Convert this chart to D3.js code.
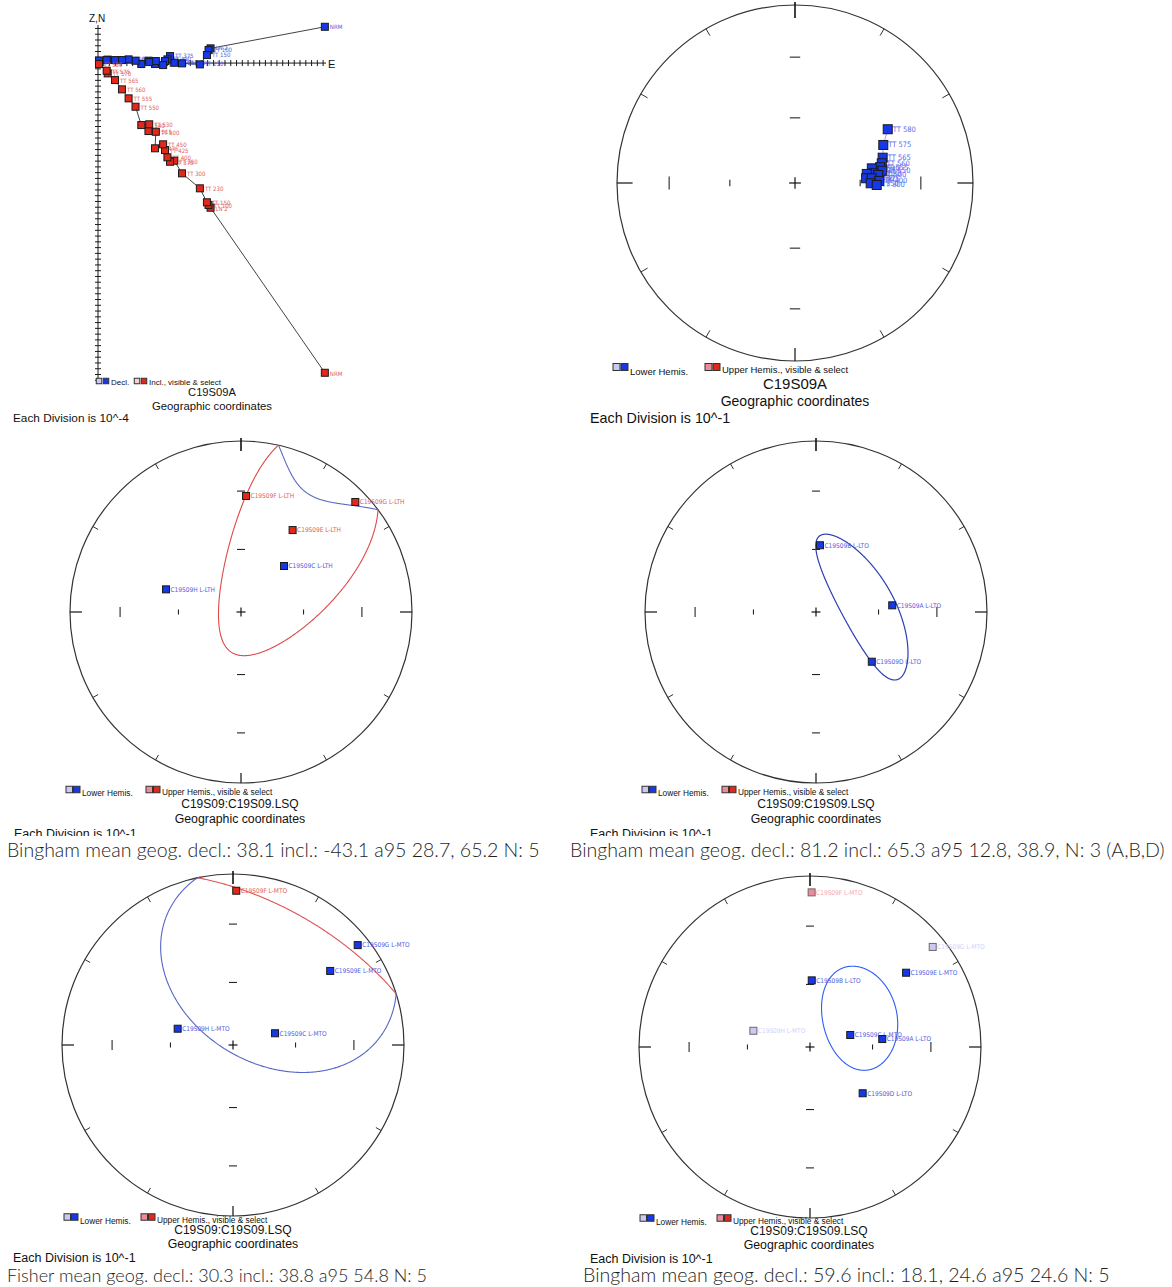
<!DOCTYPE html>
<html><head><meta charset="utf-8">
<script src="https://cdn.jsdelivr.net/npm/d3@7"></script>
<style>
body{margin:0;background:#fff;}
svg{display:block;}
</style></head><body>
<svg id="fig" width="1172" height="1287"></svg>
<script>
// ---------- Zijderveld components of C19S09A (units: divisions of 10^-4) ----------
const zijSteps = ["NRM","LN 2","TT 100","TT 150","TT 230","TT 300","TT 350","TT 375","TT 400","TT 425","TT 450","TT 475","TT 500","TT 515","TT 530","TT 540","TT 550","TT 555","TT 560","TT 565","TT 570","TT 575","TT 580"];
const zijEast  = [39.3, 19.5, 19.15, 18.87, 17.65, 14.55, 13.22, 12.48, 12.03, 11.61, 11.28, 9.88, 10.02, 8.74, 8.87, 7.5, 6.5, 5.3, 4.15, 2.95, 1.68, 1.5, 0.17];
const zijNorth = [6.29, 2.55, 2.25, 1.39, -0.23, -0.05, 0.05, 1.21, 0.64, 0.35, -0.35, -0.17, 0.35, 0.4, 0.17, -0.17, 0.4, 0.64, 0.52, 0.52, 0.6, 0.52, 0.45];
const zijDown  = [53.7, 25.08, 24.6, 24.14, 21.72, 19.12, 16.93, 17.11, 16.34, 15.08, 14.09, 14.78, 11.91, 11.79, 10.62, 10.75, 7.57, 6.12, 4.56, 2.95, 1.79, 1.33, 0.17];

// ---------- step directions of C19S09A on the equal-area net ----------
const netSteps = ["TT 580","TT 575","TT 565","TT 560","TT 555","TT 550","TT 540","TT 530","TT 515","TT 500","TT 450","TT 425","TT 400","TT 350","TT 300"];
const netDec = [59.9, 66.7, 73.9, 77.2, 79.5, 82.0, 79.2, 82.9, 82.8, 84.5, 86.2, 86.5, 88.6, 90.2, 91.4];
const netInc = [39.6, 45.1, 47.5, 48.6, 49.8, 49.0, 53.8, 53.5, 56.6, 51.2, 57.1, 54.5, 50.9, 55.0, 52.1];

// ---------- line-fit directions per specimen ----------
const lthNames = ["C19S09F L-LTH","C19S09G L-LTH","C19S09E L-LTH","C19S09C L-LTH","C19S09H L-LTH"];
const lthDec = [2.5, 46.1, 32.2, 43.1, 286.8];
const lthInc = [-32.6, -8.0, -42.8, 59.8, 52.2];

const ltoNames = ["C19S09B L-LTO","C19S09A L-LTO","C19S09D L-LTO"];
const ltoDec = [3.4, 85.0, 131.7];
const ltoInc = [57.9, 53.1, 54.0];

const mtoNames = ["C19S09F L-MTO","C19S09G L-MTO","C19S09E L-MTO","C19S09H L-MTO","C19S09C L-MTO"];
const mtoDec = [1.2, 51.3, 52.7, 286.4, 74.4];
const mtoInc = [-10.7, 7.3, 29.3, 62.4, 69.2];

const allNames = ["C19S09F L-MTO","C19S09G L-MTO","C19S09E L-MTO","C19S09B L-LTO","C19S09H L-MTO","C19S09C L-MTO","C19S09A L-LTO","C19S09D L-LTO"];
const allDec = [0.6, 50.8, 52.3, 1.5, 286.0, 73.4, 83.7, 131.3];
const allInc = [-10.5, 8.2, 29.7, 58.0, 61.8, 70.0, 55.0, 56.3];
const allHidden = [true, true, false, false, true, false, false, false];

// ---------- mean directions and confidence regions (LTH, LTO, MTO, all) ----------
const meanDec = [38.1, 81.2, 30.3, 59.6];
const meanInc = [-43.1, 65.3, 38.8, 62.0];
const meanSemiMajor = [65.2, 38.9, 54.8, 24.6];
const meanSemiMinor = [28.7, 12.8, 54.8, 18.1];
const meanAxisAngle = [99, -21, 0, 21];
const captions = [
  "Bingham mean geog. decl.: 38.1 incl.: -43.1 a95 28.7, 65.2 N: 5",
  "Bingham mean geog. decl.: 81.2 incl.: 65.3 a95 12.8, 38.9, N: 3 (A,B,D)",
  "Fisher mean geog. decl.: 30.3 incl.: 38.8 a95 54.8 N: 5",
  "Bingham mean geog. decl.: 59.6 incl.: 18.1, 24.6 a95 24.6 N: 5"
];

// ---------- drawing ----------
const DEG = Math.PI / 180;
const svg = d3.select("#fig");
const defs = svg.append("defs");
const SANS = "'Liberation Sans', Arial, sans-serif";
const TINY = "'DejaVu Sans Condensed', 'DejaVu Sans', sans-serif";
const CAPTION = "Lato, 'Open Sans', sans-serif";

const COL = {
  red: "#e2281b", blue: "#1638e6", edge: "#1a1a1a",
  redLabel: "#e0605a", blueLabel: "#5060e0",
  pink: "#f08a9a", lav: "#c9c9f2", fadedEdge: "#6a6a6a",
  pinkLabel: "#f6a6ae", lavLabel: "#d2d2f6"
};

function panel(id, x, y, w, h) {
  defs.append("clipPath").attr("id", id).append("rect")
    .attr("x", x).attr("y", y).attr("width", w).attr("height", h);
  return svg.append("g").attr("clip-path", `url(#${id})`);
}
function seg(g, x1, y1, x2, y2, col, w) {
  g.append("line").attr("x1", x1).attr("y1", y1).attr("x2", x2).attr("y2", y2)
    .attr("stroke", col || "#1a1a1a").attr("stroke-width", w || 1);
}
function square(g, x, y, s, fill, stroke) {
  g.append("rect").attr("x", x - s / 2).attr("y", y - s / 2).attr("width", s).attr("height", s)
    .attr("fill", fill).attr("stroke", stroke).attr("stroke-width", 1);
}
function text(g, x, y, str, size, opts) {
  opts = opts || {};
  return g.append("text").attr("x", x).attr("y", y).text(str)
    .attr("font-family", opts.family || SANS).attr("font-size", size)
    .attr("fill", opts.fill || "#111").attr("text-anchor", opts.anchor || "start")
    .attr("font-weight", opts.weight || "normal");
}
// caption line sized so that it runs across the given width
function caption(x, y, str, width) {
  const t = text(svg, x, y, str, 18, { family: CAPTION, fill: "#1e1e1e", weight: 300 });
  const len = t.node().getComputedTextLength();
  if (len > 0) t.attr("font-size", 18 * width / len);
}
function legend(g, x, y, size, box, gap) {
  square(g, x + box / 2, y, box, COL.lav, "#333");
  square(g, x + box * 1.5 + 1, y, box, COL.blue, "#333");
  text(g, x + box * 2 + 3, y + size * 0.8, "Lower Hemis.", size);
  const x2 = x + gap;
  square(g, x2 + box / 2, y, box, COL.pink, "#333");
  square(g, x2 + box * 1.5 + 1, y, box, COL.red, "#333");
  text(g, x2 + box * 2 + 3, y + size * 0.68, "Upper Hemis., visible & select", size);
}

// ---------- panel 1: Zijderveld diagram ----------
(function () {
  const g = panel("p1", 0, 0, 350, 425);
  const zx = d3.scaleLinear().domain([0, 39.5]).range([98, 326]);
  const zy = d3.scaleLinear().domain([6.6, -55.3]).range([25, 382]);
  seg(g, zx(0), zy(0), zx(39.5), zy(0));
  seg(g, zx(0), zy(6.6), zx(0), zy(-55.3));
  d3.range(1, 40).forEach(i => seg(g, zx(i), zy(0) - 3, zx(i), zy(0) + 3));
  d3.range(-55, 7).filter(j => j !== 0).forEach(j => seg(g, zx(0) - 3, zy(j), zx(0) + 3, zy(j)));
  text(g, 89, 22, "Z,N", 10);
  text(g, 328, 68, "E", 11);

  const idx = d3.range(zijSteps.length);
  const hLine = d3.line().x(i => zx(zijEast[i])).y(i => zy(zijNorth[i]));
  const vLine = d3.line().x(i => zx(zijEast[i])).y(i => zy(-zijDown[i]));
  g.append("path").attr("d", hLine(idx)).attr("fill", "none").attr("stroke", "#444").attr("stroke-width", 1);
  g.append("path").attr("d", vLine(idx)).attr("fill", "none").attr("stroke", "#444").attr("stroke-width", 1);

  idx.forEach(i => text(g, zx(zijEast[i]) + 5, zy(zijNorth[i]) + 2, zijSteps[i], 6, { family: TINY, fill: COL.blueLabel }));
  idx.forEach(i => square(g, zx(zijEast[i]), zy(zijNorth[i]), 7, COL.blue, COL.edge));
  idx.forEach(i => text(g, zx(zijEast[i]) + 5, zy(-zijDown[i]) + 3, zijSteps[i], 6, { family: TINY, fill: COL.redLabel }));
  idx.forEach(i => square(g, zx(zijEast[i]), zy(-zijDown[i]), 7, COL.red, COL.edge));

  // legend and titles
  square(g, 99, 381, 5.5, COL.lav, "#333");
  square(g, 106, 381, 5.5, COL.blue, "#333");
  text(g, 111, 384.5, "Decl.", 8);
  square(g, 137, 381, 5.5, "#f4d2d8", "#333");
  square(g, 144, 381, 5.5, COL.red, "#333");
  text(g, 149, 384.5, "Incl., visible & select", 8);
  text(g, 212, 396, "C19S09A", 11.2, { anchor: "middle" });
  text(g, 212, 410, "Geographic coordinates", 11.3, { anchor: "middle" });
  text(g, 13, 422, "Each Division is 10^-4", 11.8);
})();

// ---------- equal-area net ----------
function drawNet(g, cx, cy, R, k) {
  const rad = d3.scaleSqrt().domain([0, 1]).range([0, R]);
  const proj = (dec, inc) => {
    const r = rad(1 - Math.sin(Math.abs(inc) * DEG));
    return [cx + r * Math.sin(dec * DEG), cy - r * Math.cos(dec * DEG)];
  };
  g.append("circle").attr("cx", cx).attr("cy", cy).attr("r", R)
    .attr("fill", "none").attr("stroke", "#333").attr("stroke-width", 1.2);
  d3.range(30, 360, 30).filter(a => a % 90).forEach(a => {
    const s = Math.sin(a * DEG), c = Math.cos(a * DEG);
    seg(g, cx + R * s, cy - R * c, cx + (R - 6 * k) * s, cy - (R - 6 * k) * c, "#333");
  });
  seg(g, cx, cy - R - 3, cx, cy - R + 10 * k, "#111", 1.6);
  seg(g, cx, cy + R, cx, cy + R - 10 * k, "#111", 1.2);
  seg(g, cx + R, cy, cx + R - 12 * k, cy, "#111", 1.2);
  seg(g, cx - R, cy, cx - R + 12 * k, cy, "#111", 1.2);
  [30, 60].forEach(inc => {
    const r = rad(1 - Math.sin(inc * DEG));
    const hl = inc === 30 ? 5 * k : 2.5 * k;
    [-1, 1].forEach(sg => {
      seg(g, cx + sg * r, cy - hl, cx + sg * r, cy + hl, "#111", 1);
      seg(g, cx - 4 * k, cy + sg * r, cx + 4 * k, cy + sg * r, "#111", 1);
    });
  });
  seg(g, cx - 4.5 * k, cy, cx + 4.5 * k, cy, "#111", 1.2);
  seg(g, cx, cy - 4.5 * k, cx, cy + 4.5 * k, "#111", 1.2);
  return proj;
}

// confidence cone around a mean, split into upper / lower hemisphere pieces
function vec(dec, inc) {
  const D = dec * DEG, I = inc * DEG;
  return [Math.cos(I) * Math.cos(D), Math.cos(I) * Math.sin(D), Math.sin(I)];
}
function dir(v) {
  const n = Math.hypot(v[0], v[1], v[2]);
  return [Math.atan2(v[1], v[0]) / DEG, Math.asin(Math.max(-1, Math.min(1, v[2] / n))) / DEG];
}
function coneSegments(i) {
  const D = meanDec[i] * DEG, I = meanInc[i] * DEG, p = meanAxisAngle[i] * DEG;
  const m = vec(meanDec[i], meanInc[i]);
  const e1 = [-Math.sin(D), Math.cos(D), 0];
  const e2 = [-Math.sin(I) * Math.cos(D), -Math.sin(I) * Math.sin(D), Math.cos(I)];
  const u = e1.map((a, j) => a * Math.cos(p) + e2[j] * Math.sin(p));
  const w = e1.map((a, j) => -a * Math.sin(p) + e2[j] * Math.cos(p));
  const pts = d3.range(0, 360.5, 0.5).map(t => {
    const x = meanSemiMajor[i] * Math.cos(t * DEG), y = meanSemiMinor[i] * Math.sin(t * DEG);
    const rho = Math.hypot(x, y) * DEG, psi = Math.atan2(y, x);
    return m.map((a, j) => a * Math.cos(rho) + Math.sin(rho) * (Math.cos(psi) * u[j] + Math.sin(psi) * w[j]));
  });
  const segs = [];
  let cur = { upper: pts[0][2] < 0, pts: [pts[0]] };
  for (let k = 1; k < pts.length; k++) {
    const a = pts[k - 1], b = pts[k];
    if ((b[2] < 0) === cur.upper) { cur.pts.push(b); continue; }
    const f = a[2] / (a[2] - b[2]);
    const c = a.map((q, j) => q + f * (b[j] - q)); c[2] = 0;
    cur.pts.push(c); segs.push(cur);
    cur = { upper: b[2] < 0, pts: [c, b] };
  }
  segs.push(cur);
  return segs;
}
function drawCone(g, proj, i, upperCol, lowerCol, width) {
  const line = d3.line().x(v => proj(...dir(v))[0]).y(v => proj(...dir(v))[1]);
  coneSegments(i).forEach(s => {
    g.append("path").attr("d", line(s.pts)).attr("fill", "none")
      .attr("stroke", s.upper ? upperCol : lowerCol).attr("stroke-width", width);
  });
}
function drawDirs(g, proj, names, decs, incs, hidden, size, fontSize) {
  names.forEach((n, i) => {
    const [x, y] = proj(decs[i], incs[i]);
    const faded = hidden && hidden[i];
    const up = incs[i] < 0;
    const lab = faded ? (up ? COL.pinkLabel : COL.lavLabel) : (up ? COL.redLabel : COL.blueLabel);
    text(g, x + size / 2 + 1, y + fontSize * 0.35, n, fontSize, { family: TINY, fill: lab });
  });
  names.forEach((n, i) => {
    const [x, y] = proj(decs[i], incs[i]);
    const faded = hidden && hidden[i];
    const up = incs[i] < 0;
    const fill = faded ? (up ? COL.pink : COL.lav) : (up ? COL.red : COL.blue);
    square(g, x, y, size, fill, faded ? COL.fadedEdge : COL.edge);
  });
}
// legend, title, coordinate system and scale note under a net
function netFooter(g, cx, lx, ly, title, tSize, tY, gSize, gY, eSize, ex, eY, legSize, box, gap) {
  legend(g, lx, ly, legSize, box, gap);
  text(g, cx, tY, title, tSize, { anchor: "middle" });
  text(g, cx, gY, "Geographic coordinates", gSize, { anchor: "middle" });
  text(g, ex, eY, "Each Division is 10^-1", eSize);
}

// ---------- panel 2: step directions ----------
(function () {
  const g = panel("p2", 580, 0, 420, 425);
  const proj = drawNet(g, 795, 183, 178, 1.3);
  const line = d3.line().x(i => proj(netDec[i], netInc[i])[0]).y(i => proj(netDec[i], netInc[i])[1]);
  g.append("path").attr("d", line(d3.range(netSteps.length))).attr("fill", "none")
    .attr("stroke", "#9aa6f0").attr("stroke-width", 1);
  netSteps.forEach((n, i) => {
    const [x, y] = proj(netDec[i], netInc[i]);
    text(g, x + 5, y + 2.5, n, 7.5, { family: TINY, fill: "#5a6af0" });
  });
  netSteps.forEach((n, i) => {
    const [x, y] = proj(netDec[i], netInc[i]);
    square(g, x, y, 9, COL.blue, COL.edge);
  });
  netFooter(g, 795, 613, 367, "C19S09A", 15, 389, 14, 406, 14.3, 590, 423, 9.5, 7, 92);
})();

// ---------- panel 3: LTH directions ----------
(function () {
  const g = panel("p3", 0, 432, 560, 404);
  const proj = drawNet(g, 241, 612, 171, 1);
  drawCone(g, proj, 0, "#dd4a48", "#5a6ac8", 1.1);
  drawDirs(g, proj, lthNames, lthDec, lthInc, null, 7, 6.5);
  netFooter(g, 240, 66, 789.5, "C19S09:C19S09.LSQ", 12, 808, 12.3, 822.5, 12.5, 14, 838, 8.3, 6.5, 80);
  caption(7, 857, captions[0], 533);
})();

// ---------- panel 4: LTO directions ----------
(function () {
  const g = panel("p4", 575, 432, 425, 404);
  const proj = drawNet(g, 816, 612, 171, 1);
  drawCone(g, proj, 1, "#dd4a48", "#2c3eb0", 1.2);
  drawDirs(g, proj, ltoNames, ltoDec, ltoInc, null, 7, 6.5);
  netFooter(g, 816, 642, 789.5, "C19S09:C19S09.LSQ", 12, 808, 12.3, 822.5, 12.5, 590, 838, 8.3, 6.5, 80);
  caption(570, 857, captions[1], 595);
})();

// ---------- panel 5: MTO directions ----------
(function () {
  const g = panel("p5", 0, 866, 560, 398);
  const proj = drawNet(g, 233, 1045, 171, 1);
  drawCone(g, proj, 2, "#de5252", "#5666c8", 1.1);
  drawDirs(g, proj, mtoNames, mtoDec, mtoInc, null, 7, 6.5);
  netFooter(g, 233, 64, 1217, "C19S09:C19S09.LSQ", 12, 1233.5, 12.3, 1248, 12.5, 13, 1261.5, 8.3, 6.5, 77);
  caption(7, 1282, captions[2], 420);
})();

// ---------- panel 6: all components ----------
(function () {
  const g = panel("p6", 580, 866, 420, 397);
  const proj = drawNet(g, 810, 1047, 171, 1);
  drawCone(g, proj, 3, "#dd4a48", "#2f5cf6", 1.1);
  drawDirs(g, proj, allNames, allDec, allInc, allHidden, 7, 6.5);
  netFooter(g, 809, 640, 1218, "C19S09:C19S09.LSQ", 12, 1234.5, 12.3, 1249, 12.5, 590, 1263, 8.3, 6.5, 77);
  caption(583, 1282, captions[3], 527);
})();
</script>
</body></html>
